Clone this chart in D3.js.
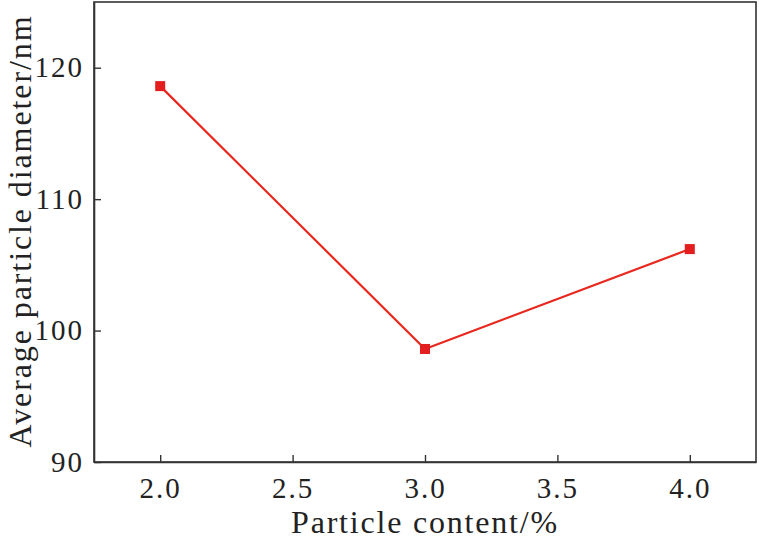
<!DOCTYPE html>
<html>
<head>
<meta charset="utf-8">
<script src="https://cdn.jsdelivr.net/npm/d3@7"></script>
<style>
  html, body { margin: 0; padding: 0; background: #fff; }
  svg { display: block; }
  text { font-family: "Liberation Serif", "Times New Roman", serif; fill: #222; }
</style>
</head>
<body>
<svg id="chart" width="759" height="540"></svg>
<script>
// particle content (%) vs average particle diameter (nm)
const contents = [2.0, 3.0, 4.0];
const diameters = [118.6, 98.6, 106.2];
const xTicks = [2.0, 2.5, 3.0, 3.5, 4.0];
const yTicks = [90, 100, 110, 120];

const width = 759, height = 540;
const margin = { top: 2, right: 3, bottom: 78, left: 94 };

const svg = d3.select("#chart");

const x = d3.scaleLinear().domain([1.75, 4.25]).range([margin.left, width - margin.right]);
const y = d3.scaleLinear().domain([90, 125]).range([height - margin.bottom, margin.top]);

// frame
svg.append("rect")
  .attr("x", margin.left)
  .attr("y", margin.top)
  .attr("width", width - margin.left - margin.right)
  .attr("height", height - margin.top - margin.bottom)
  .attr("fill", "none")
  .attr("stroke", "#333")
  .attr("stroke-width", 1.6);

// axes, ticks pointing inward
const xAxis = svg.append("g")
  .attr("transform", `translate(0,${height - margin.bottom})`)
  .call(d3.axisBottom(x).tickValues(xTicks).tickFormat(d3.format(".1f")).tickSizeInner(-7).tickSizeOuter(0).tickPadding(10));

const yAxis = svg.append("g")
  .attr("transform", `translate(${margin.left},0)`)
  .call(d3.axisLeft(y).tickValues(yTicks).tickSizeInner(-7).tickSizeOuter(0).tickPadding(10));

[xAxis, yAxis].forEach(g => {
  g.select(".domain").attr("stroke", "#333").attr("stroke-width", 1.6);
  g.selectAll(".tick line").attr("stroke", "#333").attr("stroke-width", 1.4);
  g.selectAll(".tick text")
    .attr("fill", "#222")
    .style("font-family", "'Liberation Serif', serif")
    .style("font-size", "29px")
    .style("letter-spacing", "2px");
});
xAxis.selectAll(".tick text").attr("dy", "0.9em");

// line + square markers
const pts = contents.map((c, i) => [c, diameters[i]]);

svg.append("path")
  .datum(pts)
  .attr("fill", "none")
  .attr("stroke", "#e8281f")
  .attr("stroke-width", 2.2)
  .attr("d", d3.line().x(d => x(d[0])).y(d => y(d[1])));

svg.selectAll("rect.pt")
  .data(pts)
  .join("rect")
  .attr("class", "pt")
  .attr("x", d => x(d[0]) - 5)
  .attr("y", d => y(d[1]) - 5)
  .attr("width", 10)
  .attr("height", 10)
  .attr("fill", "#e31e1e");

// axis titles
svg.append("text")
  .attr("x", 425)
  .attr("y", 533)
  .attr("text-anchor", "middle")
  .style("font-size", "32px")
  .style("letter-spacing", "1.8px")
  .text("Particle content/%");

svg.append("text")
  .attr("transform", "translate(31,231) rotate(-90)")
  .attr("text-anchor", "middle")
  .style("font-size", "32px")
  .style("letter-spacing", "1.9px")
  .text("Average particle diameter/nm");
</script>
</body>
</html>
